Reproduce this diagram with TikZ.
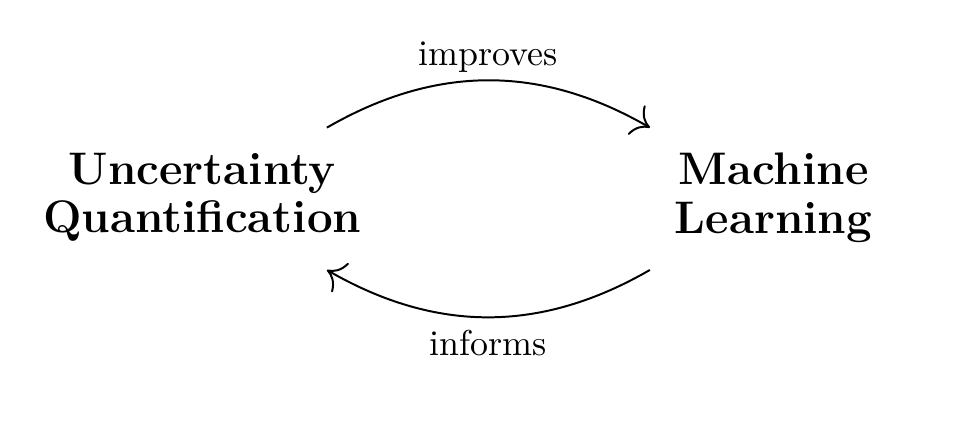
\documentclass[tikz,border=0pt]{standalone}
\usetikzlibrary{arrows.meta,positioning}

\begin{document}
\begin{tikzpicture}[x=0.96cm,y=0.96cm,
    topic/.style={font=\fontsize{12.7}{13.6}\selectfont\bfseries,align=center},
    link/.style={-{To[scale=1.6]},line width=0.55pt}]
        \useasboundingbox (0,0) rectangle (9.82,4.30);

        \node[topic] (uq) at (2.06,2.29) {Uncertainty\\Quantification};
        \node[topic] (ml) at (7.88,2.29) {Machine\\Learning};

        \coordinate (uqtop) at ([shift={(1.27,0.71)}]uq.center);
        \coordinate (uqbot) at ([shift={(1.27,-0.74)}]uq.center);
        \coordinate (mltop) at ([shift={(-1.26,0.71)}]ml.center);
        \coordinate (mlbot) at ([shift={(-1.26,-0.74)}]ml.center);

        \draw[link] (uqtop) to[bend left=30]
          node[midway,above=-1.3pt] (improves) {improves} (mltop);
        \draw[link] (mlbot) to[bend left=30]
          node[midway,below] (informs) {informs} (uqbot);
      \end{tikzpicture}
\end{document}
